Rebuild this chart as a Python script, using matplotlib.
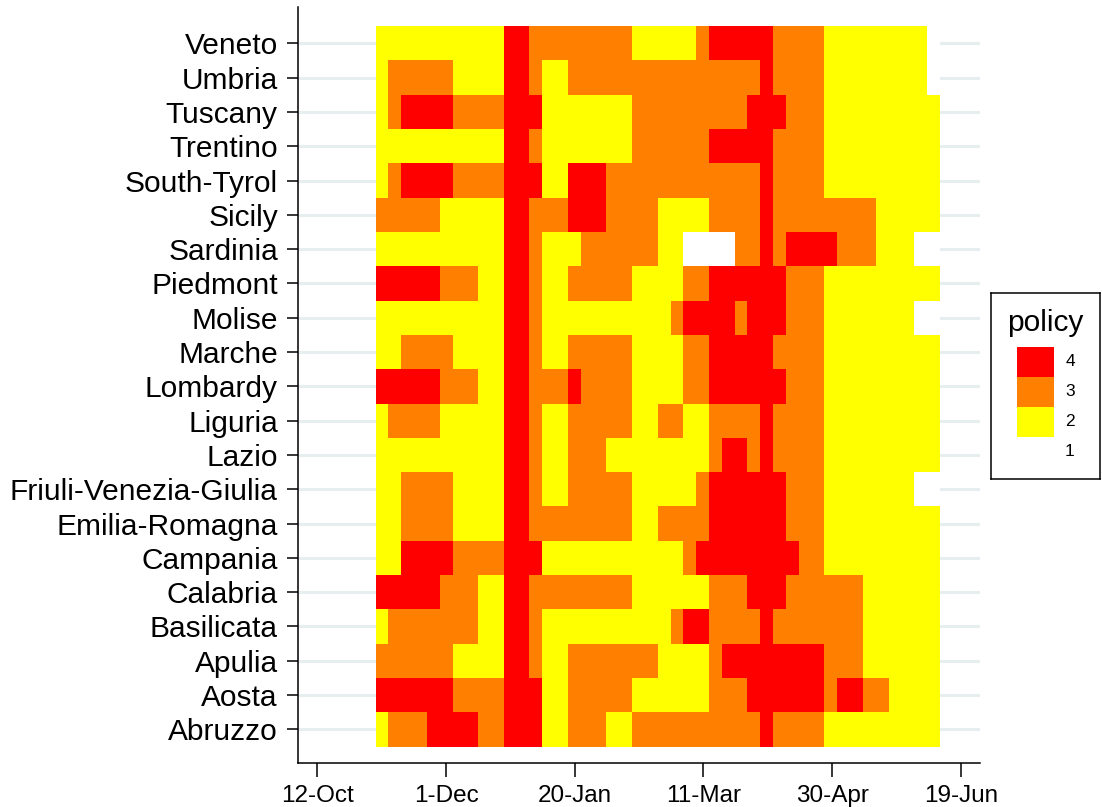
import numpy as np
import pandas as pd
import matplotlib
matplotlib.use("Agg")
import matplotlib.pyplot as plt
import matplotlib.dates as mdates
from matplotlib.colors import ListedColormap, BoundaryNorm
from matplotlib.patches import Rectangle

plt.rcParams['font.family'] = ['Liberation Sans', 'DejaVu Sans']

## Regions, bottom to top
regions = ["Abruzzo", "Aosta", "Apulia", "Basilicata", "Calabria", "Campania",
           "Emilia-Romagna", "Friuli-Venezia-Giulia", "Lazio", "Liguria",
           "Lombardy", "Marche", "Molise", "Piedmont", "Sardinia", "Sicily",
           "South-Tyrol", "Trentino", "Tuscany", "Umbria", "Veneto"]

## policy level per time bin, as (level, number of bins) runs
policy_runs = [
    [(2,1),(3,3),(4,4),(3,2),(4,3),(2,2),(3,3),(2,2),(3,10),(4,1),(3,4),(2,9)],          # Abruzzo
    [(4,6),(3,4),(4,3),(2,2),(3,5),(2,6),(3,3),(4,6),(3,1),(4,2),(3,2),(2,4)],           # Aosta
    [(3,6),(2,4),(4,2),(3,1),(2,2),(3,7),(2,4),(3,1),(4,8),(3,3),(2,6)],                 # Apulia
    [(2,1),(3,7),(2,2),(4,2),(3,1),(2,10),(3,1),(4,2),(3,4),(4,1),(3,7),(2,6)],          # Basilicata
    [(4,5),(3,3),(2,2),(4,2),(3,8),(2,6),(3,3),(4,3),(3,6),(2,6)],                       # Calabria
    [(2,2),(4,4),(3,4),(4,3),(2,11),(3,1),(4,8),(3,2),(2,9)],                            # Campania
    [(2,2),(3,4),(2,4),(4,2),(3,8),(2,2),(3,4),(4,6),(3,3),(2,9)],                       # Emilia-Romagna
    [(2,2),(3,4),(2,4),(4,2),(3,1),(2,2),(3,5),(2,5),(3,1),(4,6),(3,3),(2,7),(1,2)],     # Friuli-Venezia-Giulia
    [(2,10),(4,2),(3,1),(2,2),(3,3),(2,8),(3,1),(4,2),(3,1),(4,1),(3,4),(2,9)],          # Lazio
    [(2,1),(3,4),(2,5),(4,2),(3,1),(2,2),(3,5),(2,2),(3,2),(2,2),(3,4),(4,1),(3,4),(2,9)],  # Liguria
    [(4,5),(3,3),(2,2),(4,2),(3,3),(4,1),(3,4),(2,4),(3,2),(4,6),(3,3),(2,9)],           # Lombardy
    [(2,2),(3,4),(2,4),(4,2),(3,1),(2,2),(3,5),(2,4),(3,2),(4,5),(3,4),(2,9)],           # Marche
    [(2,10),(4,2),(3,1),(2,10),(3,1),(4,4),(3,1),(4,3),(3,3),(2,7),(1,2)],               # Molise
    [(4,5),(3,3),(2,2),(4,2),(3,1),(2,2),(3,5),(2,4),(3,2),(4,6),(3,3),(2,9)],           # Piedmont
    [(2,10),(4,2),(3,1),(2,3),(3,6),(2,2),(1,4),(3,2),(4,1),(3,1),(4,4),(3,3),(2,3),(1,2)],  # Sardinia
    [(3,5),(2,5),(4,2),(3,3),(4,3),(3,4),(2,4),(3,4),(4,1),(3,8),(2,5)],                 # Sicily
    [(2,1),(3,1),(4,4),(3,4),(4,3),(2,2),(4,3),(3,12),(4,1),(3,4),(2,9)],                # South-Tyrol
    [(2,10),(4,2),(3,1),(2,7),(3,6),(4,5),(3,4),(2,9)],                                  # Trentino
    [(2,1),(3,1),(4,4),(3,4),(4,3),(2,7),(3,9),(4,3),(3,3),(2,9)],                       # Tuscany
    [(2,1),(3,5),(2,4),(4,2),(3,1),(2,2),(3,15),(4,1),(3,4),(2,8),(1,1)],                # Umbria
    [(2,10),(4,2),(3,8),(2,5),(3,1),(4,5),(3,4),(2,8),(1,1)],                            # Veneto
]

## time bins
first_day = pd.Timestamp("2020-11-03 15:30")
last_day = pd.Timestamp("2021-06-10 19:00")
n_bins = 44
tick_dates = pd.date_range("2020-10-12", periods=6, freq="50D")

levels = [4, 3, 2, 1]
level_colors = ["#ffffff", "#ffff00", "#ff8000", "#ff0000"]  # 1..4

grid = np.array([np.repeat([l for l, n in r], [n for l, n in r]) for r in policy_runs])
assert grid.shape == (len(regions), n_bins)

x_edges = mdates.date2num(pd.date_range(first_day, last_day, periods=n_bins + 1))
y_edges = np.arange(0.5, len(regions) + 1.5, 1)

cmap = ListedColormap(level_colors)
norm = BoundaryNorm([0.5, 1.5, 2.5, 3.5, 4.5], cmap.N)

fig = plt.figure(figsize=(11.02, 8.07), dpi=100)
ax = fig.add_axes([298/1102, 1 - 763/807, (980 - 298)/1102, (763 - 7.3)/807])

for yy in range(1, len(regions) + 1):
    ax.axhline(yy, color="#e6eef0", lw=2.2, zorder=0)

ax.pcolormesh(x_edges, y_edges, grid, cmap=cmap, norm=norm, zorder=1)

t0 = mdates.date2num(tick_dates[0])
ax.set_xlim(t0 - 7.5, t0 + 257.4)
ax.set_ylim(0.02, 22.05)

ax.set_xticks(mdates.date2num(tick_dates))
ax.set_xticklabels([f"{d.day}-{d:%b}" for d in tick_dates], fontsize=17.5)
ax.set_yticks(np.arange(1, len(regions) + 1))
ax.set_yticklabels(regions, fontsize=21.5)
ax.tick_params(axis="y", length=8, width=1.1, pad=6.5)
ax.tick_params(axis="x", length=10, width=1.1, pad=5.5)

for s in ["top", "right"]:
    ax.spines[s].set_visible(False)
for s in ["left", "bottom"]:
    ax.spines[s].set_linewidth(1.1)

## legend box
lax = fig.add_axes([991/1102, 1 - 479/807, 109/1102, 186/807])
lax.set_xlim(0, 109)
lax.set_ylim(186, 0)
lax.set_xticks([])
lax.set_yticks([])
for s in lax.spines.values():
    s.set_linewidth(1.1)
lax.text(54, 30, "policy", fontsize=21.5, ha="center", va="center")
for i, lv in enumerate(levels):
    top = 54 + 30 * i
    lax.add_patch(Rectangle((26, top), 37, 30, facecolor=level_colors[lv - 1], edgecolor="none"))
    lax.text(79, top + 15, str(lv), fontsize=12.5, ha="center", va="center")

fig.savefig("out.png", dpi=100)
